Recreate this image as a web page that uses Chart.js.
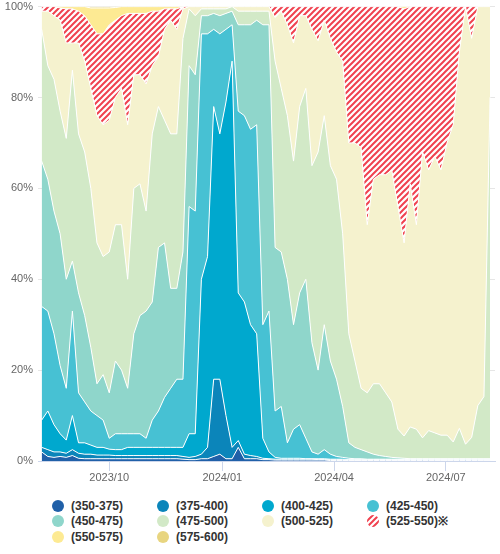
<!DOCTYPE html>
<html>
<head>
<meta charset="utf-8">
<title>Share by range</title>
<script src="https://cdn.jsdelivr.net/npm/chart.js@4.4.1/dist/chart.umd.min.js"></script>
<style>
body { margin: 0; background: #fff; font-family: "Liberation Sans", Arial, sans-serif; }
#wrap { position: relative; width: 500px; height: 554px; overflow: hidden; }
#box { position: absolute; left: 0; top: -5px; width: 500px; height: 495px; }
#legend { position: absolute; left: 0; top: 499px; width: 500px; height: 50px; }
.item { position: absolute; height: 15px; line-height: 15px; font-size: 12px; font-weight: bold; color: #333; white-space: nowrap; }
.item canvas { position: absolute; left: 0; top: 1px; }
.item span { position: absolute; left: 19px; top: 0; }
</style>
</head>
<body>
<div id="wrap">
  <div id="box"><canvas id="chart"></canvas></div>
  <div id="legend"></div>
</div>

<script>
// sampled every 5 days
var dates = [
  '2023-08-07','2023-08-12','2023-08-17','2023-08-22','2023-08-27','2023-09-01','2023-09-06','2023-09-11','2023-09-16','2023-09-21','2023-09-26','2023-10-01',
  '2023-10-06','2023-10-11','2023-10-16','2023-10-21','2023-10-26','2023-10-31','2023-11-05','2023-11-10','2023-11-15','2023-11-20','2023-11-25','2023-11-30',
  '2023-12-05','2023-12-10','2023-12-15','2023-12-20','2023-12-25','2023-12-30','2024-01-04','2024-01-09','2024-01-14','2024-01-19','2024-01-24','2024-01-29',
  '2024-02-03','2024-02-08','2024-02-13','2024-02-18','2024-02-23','2024-02-28','2024-03-04','2024-03-09','2024-03-14','2024-03-19','2024-03-24','2024-03-29',
  '2024-04-03','2024-04-08','2024-04-13','2024-04-18','2024-04-23','2024-04-28','2024-05-03','2024-05-08','2024-05-13','2024-05-18','2024-05-23','2024-05-28',
  '2024-06-02','2024-06-07','2024-06-12','2024-06-17','2024-06-22','2024-06-27','2024-07-02','2024-07-07','2024-07-12','2024-07-17','2024-07-22','2024-07-27',
  '2024-08-01','2024-08-06'
];

var ranges = ['(350-375)', '(375-400)', '(400-425)', '(425-450)', '(450-475)',
              '(475-500)', '(500-525)', '(525-550)※', '(550-575)', '(575-600)'];

// share (%) of each range
var r350 = [2,1,0.8,1,0.8,1.2,0.6,0.5,0.5,0.5,0.5,0.5,
  0.5,0.5,0.5,0.5,0.5,0.5,0.5,0.5,0.5,0.5,0.5,0.4,
  0.3,0.3,0.5,0.5,1,1.5,0.5,0.5,3,0.5,0.5,0.5,
  0.3,0.3,0.2,0.2,0.2,0.2,0.2,0.2,0.2,0.2,0.2,0.1,
  0.1,0.1,0.1,0.1,0.1,0.1,0.1,0.1,0.1,0.1,0.1,0.1,
  0.1,0.1,0.1,0.1,0.1,0.1,0.1,0.1,0.1,0.1,0.1,0.1,
  0.1,0.1];
var r375 = [1,1.5,1.2,1,0.9,1.3,1.1,1,1,0.8,0.8,0.8,
  0.7,0.7,0.7,0.7,0.7,0.7,0.7,0.7,0.7,0.7,0.7,0.6,
  0.5,0.7,1,2.5,17,16.5,9.5,2.5,1.5,1,0.7,0.5,
  0.3,0.2,0.2,0.2,0.2,0.2,0.2,0.2,0.2,0.1,0.1,0.2,
  0.2,0.2,0.1,0.1,0.1,0.1,0.1,0.1,0.1,0.1,0.1,0.1,
  0.1,0.1,0.1,0.1,0.1,0.1,0.1,0.1,0.1,0.1,0.1,0.1,
  0.1,0.1];
var r400 = [6,8.5,6,4,2.9,7.5,2.3,2.5,2,1.7,1.7,1.3,
  1.3,1.3,1.8,1.8,1.8,1.8,1.8,1.8,1.8,1.8,1.8,2,
  5.2,5,38.5,42,60,54,69,85,32.5,33.5,28.8,27,
  4.4,1.5,0.4,0.2,0.2,0.2,0.2,0.1,0.1,0.2,0.2,0.1,
  0.1,0.1,0.1,0.1,0.1,0.1,0.1,0.1,0.1,0.1,0.1,0.1,
  0.1,0.1,0.1,0.1,0.1,0.1,0.1,0.1,0.1,0.1,0.1,0.1,
  0.1,0.1];
var r425 = [25,22,20,15,11.4,23,11,9,7.5,7,6,2.4,
  3.5,3.5,3,3,3,2,6,8,11,13,15,15,
  50,49,54,49,17,22,16,8,40,41,43,46,
  25,31,10.2,11.4,3.4,6.4,7.4,4.5,1.5,1,2,1.1,
  0.6,0.4,0.3,0.2,0.2,0.1,0.1,0.1,0.1,0.1,0.1,0.1,
  0.1,0.1,0.1,0.1,0.1,0.1,0.1,0.1,0.1,0.1,0.1,0.1,
  0.1,0.1];
var r450 = [32,29,27,29,24,11,22,19,14,7,10,10,
  16,14,10,22,26,28,26,36,34,22,20,28,
  31,30,4,4,3.5,4,3.5,3,19,20,23,23,
  66,63,36,34,36,23,29,35,24,18.5,27.5,20.5,
  17,11.2,3.4,2.5,2,1.6,1.1,0.8,0.6,0.4,0.3,0.2,
  0.1,0.1,0.1,0.1,0.1,0.1,0.1,0.1,0.1,0.1,0.1,0.1,
  0.1,0.1];
var r475 = [29,25,29,27,31,42,35,36,35,31,26,31,
  30,32,24,32,29,22,37,31,27,34,34,47,
  12.5,13,1.5,1.5,1,1.5,1,1,3,3,3,2,
  3,3,41,36,36,36,41,42,39,48,46,43,
  44,38,24,19,13.5,13,15.5,15.8,14,12.2,6.3,4.9,
  7,6.5,4.6,6.2,5.7,5.2,5.2,3.7,6.7,3.2,4.7,11.7,
  13.7,79.7];
var r500 = [4,12,14,20,21,6,20,20,22,28,29,29,
  28,30,34,25,24,28,15,11,20,25,23,6.5,
  0.5,2,0.5,0.5,0.5,0.5,0.5,0,1,1,1,1,
  1,1,9.6,17,20,26,20,16,30,24.5,21,28,
  28,38,42,48,53,37,45,46,48,51,49,42.5,
  53.5,45,63,57.5,61,58.5,64.5,70,83,96.5,88,88,
  86,20];
var r525 = [1,1,2,2.7,7.5,7.5,7,10,14,18,20,21,
  17,16,24.5,13.5,13.5,15.5,12,10,4.5,2.5,4.5,0.5,
  0,0,0,0,0,0,0,0,0,0,0,0,
  0,0,2.4,1,4,8,2,2,5,7.5,3,7,
  10,12,30,30,31,48,38,37,37,36,44,51.5,
  39,48,32,36,33,36,30,26,10,0,7,0,
  0,0];
var r550 = [0,0,0,0.3,0.5,0.5,1,2,3.7,5.7,5.7,3.7,
  2.8,2,1.5,1.5,1.5,1.5,1,1,0.5,0.5,0.5,0,
  0,0,0,0,0,0,0,0,0,0,0,0,
  0,0,0,0,0,0,0,0,0,0,0,0,
  0,0,0,0,0,0,0,0,0,0,0,0.5,
  0,0,0,0,0,0,0,0,0,0,0,0,
  0,0];
var r575 = [0,0,0,0,0,0,0,0,0.3,0.3,0.3,0.3,
  0.2,0,0,0,0,0,0,0,0,0,0,0,
  0,0,0,0,0,0,0,0,0,0,0,0,
  0,0,0,0,0,0,0,0,0,0,0,0,
  0,0,0,0,0,0,0,0,0,0,0,0,
  0,0,0,0,0,0,0,0,0,0,0,0,
  0,0];

var tickDates = ['2023-10-01', '2024-01-01', '2024-04-01', '2024-07-01'];
var tickLabels = ['2023/10', '2024/01', '2024/04', '2024/07'];

var colors = ['#2060a8', '#0b85ba', '#00a8ce', '#47c1d3', '#8fd6cb',
              '#d2e9c7', '#f5f2ce', '#f0414f', '#fdea93', '#e8d580'];

function hatch(){
  var c = document.createElement('canvas');
  c.width = 6; c.height = 6;
  var g = c.getContext('2d');
  g.fillStyle = '#fff';
  g.fillRect(0, 0, 6, 6);
  g.strokeStyle = colors[7];
  g.lineWidth = 2;
  g.beginPath();
  g.moveTo(0, 6); g.lineTo(6, 0);
  g.moveTo(-1, 1); g.lineTo(1, -1);
  g.moveTo(5, 7); g.lineTo(7, 5);
  g.stroke();
  return g.createPattern(c, 'repeat');
}

drawChart();

function drawChart(){
  Chart.defaults.font.family = '"Liberation Sans", Arial, sans-serif';

  var series = [r350, r375, r400, r425, r450, r475, r500, r525, r550, r575];
  var xs = dates.map(function(d){ return Date.parse(d); });
  var totals = xs.map(function(x, i){
    return series.reduce(function(a, s){ return a + s[i]; }, 0);
  });
  var pattern = hatch();

  var datasets = series.map(function(s, k){
    return {
      label: ranges[k],
      data: s.map(function(v, i){ return {x: xs[i], y: v / totals[i] * 100}; }),
      backgroundColor: k === 7 ? pattern : colors[k],
      borderColor: '#fff',
      borderWidth: 1,
      pointRadius: 0,
      tension: 0,
      fill: k === 0 ? 'origin' : '-1'
    };
  });

  var ctx = document.getElementById('chart').getContext('2d');
  new Chart(ctx, {
    type: 'line',
    data: { datasets: datasets },
    options: {
      responsive: true,
      maintainAspectRatio: false,
      animation: false,
      layout: { padding: { top: 0, right: 5, left: 0, bottom: 0 } },
      plugins: { legend: { display: false }, tooltip: { enabled: false } },
      scales: {
        x: {
          type: 'linear',
          min: Date.parse('2023-08-04'),
          max: Date.parse('2024-08-10'),
          afterBuildTicks: function(s){
            s.ticks = tickDates.map(function(d){ return {value: Date.parse(d)}; });
          },
          afterFit: function(s){ s.height = 29; },
          ticks: {
            autoSkip: false, maxRotation: 0, padding: 0,
            color: '#666', font: { size: 11 },
            callback: function(v, i){ return tickLabels[i]; }
          },
          grid: { drawOnChartArea: false, color: '#ccd6eb', tickLength: 10 },
          border: { color: '#ccd6eb' }
        },
        y: {
          stacked: true,
          min: 0, max: 100,
          afterFit: function(s){ s.width = 38; },
          ticks: {
            stepSize: 20, padding: 5,
            color: '#666', font: { size: 11 },
            callback: function(v){ return v + '%'; }
          },
          grid: { color: '#e6e6e6', drawTicks: false },
          border: { display: false }
        }
      }
    }
  });

  // legend, 4 per row
  var box = document.getElementById('legend');
  ranges.forEach(function(name, k){
    var item = document.createElement('div');
    item.className = 'item';
    item.style.left = (52 + (k % 4) * 105) + 'px';
    item.style.top = (Math.floor(k / 4) * 15.3) + 'px';
    var c = document.createElement('canvas');
    c.width = 12; c.height = 12;
    var g = c.getContext('2d');
    g.beginPath();
    g.arc(6, 6, 6, 0, Math.PI * 2);
    g.fillStyle = k === 7 ? pattern : colors[k];
    g.fill();
    var t = document.createElement('span');
    t.textContent = name;
    item.appendChild(c);
    item.appendChild(t);
    box.appendChild(item);
  });
}
</script>
</body>
</html>
